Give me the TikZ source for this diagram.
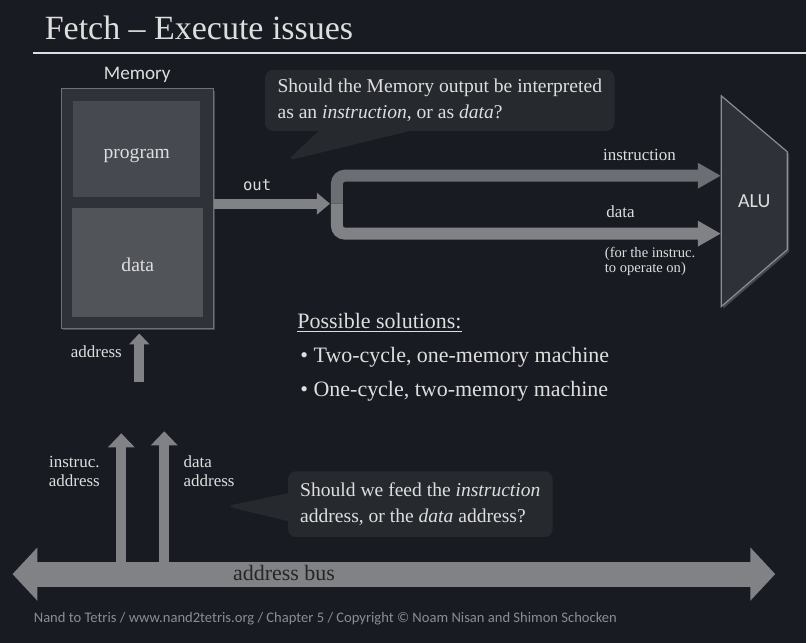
\documentclass[tikz,border=0pt]{standalone}
\usepackage{fontspec}
\setmainfont{Liberation Serif}
\setsansfont{Carlito}
\setmonofont{DejaVu Sans Mono}
\usetikzlibrary{arrows.meta,positioning,shapes.callouts,shadows}
\definecolor{bgcol}{RGB}{24,27,33}
\definecolor{lite}{RGB}{222,222,222}
\definecolor{edge}{RGB}{110,112,116}
\definecolor{memfill}{RGB}{47,50,56}
\definecolor{progfill}{RGB}{70,73,79}
\definecolor{datafill}{RGB}{81,84,89}
\definecolor{bubblefill}{RGB}{38,41,46}
\definecolor{pipegray}{RGB}{128,130,133}
\definecolor{pipedark}{RGB}{107,110,114}
\definecolor{alufill}{RGB}{46,49,55}
\definecolor{footgray}{RGB}{139,141,145}

\begin{document}
\begin{tikzpicture}[x=0.5pt, y=-0.5pt,
    lbl/.style={text=lite, inner sep=0pt, font=\fontsize{8.5}{9.5}\selectfont},
    sans/.style={text=lite, inner sep=0pt, font=\sffamily\fontsize{9.6}{11}\selectfont},
    membox/.style={draw=edge, line width=0.6pt, fill=memfill, minimum width=76pt, minimum height=120pt,
                   drop shadow={shadow xshift=1pt, shadow yshift=-1pt, fill=white, opacity=0.2}},
    cell/.style={text=lite, inner sep=0pt, text height=9.5pt, text depth=0pt, font=\fontsize{9.8}{12}\selectfont},
    bubble/.style={rectangle callout, fill=bubblefill, rounded corners=4pt, text=lite, align=left,
                   font=\fontsize{9.8}{13.2}\selectfont},
    sol/.style={text=lite, inner sep=0pt, font=\fontsize{11}{13}\selectfont},
    fat/.style={draw=pipegray, line width=5pt, -{Triangle[length=6.5pt, width=10.5pt]}},
    pipe/.style={line width=6pt, rounded corners=4pt, -{Triangle[length=11.5pt, width=12pt]}},
    upar/.style={draw=pipegray, line width=5pt, -{Triangle[length=7pt, width=13pt]}},
    busar/.style={draw=pipegray, line width=12.5pt,
                  {Triangle[length=12.5pt, width=26pt]}-{Triangle[length=12.5pt, width=26pt]}}
]
  \fill[bgcol] (0,0) rectangle (807,644);

  \node[anchor=base west, inner sep=0pt, text=lite, font=\fontsize{17}{20}\selectfont] (title) at (44,40) {Fetch -- Execute issues};
  \draw[lite, line width=0.8pt] (33,53) -- (807,53);

  \node[membox] (mem) at (137,209) {};
  \node[cell, fill=progfill, minimum width=63.5pt, minimum height=48pt] (prog) at (136.5,149) {program};
  \node[cell, fill=datafill, minimum width=65.5pt, minimum height=54.5pt] (data) at (137.5,262.5) {data};
  \node[sans, above=2.5pt of mem] (memlbl) {Memory};

  \draw[alufill, fill=alufill, draw=edge!80!white, line width=0.6pt,
        drop shadow={shadow xshift=1pt, shadow yshift=-1pt, fill=white, opacity=0.2}]
        (722,96) -- (788,152) -- (788,250) -- (722,307) -- cycle;
  \node[sans, font=\sffamily\fontsize{10}{12}\selectfont, minimum width=33pt, minimum height=105.5pt] (alu) at (755,201.5) {ALU};

  \coordinate (split) at (337,204);
  \coordinate (splitin) at (330,204);
  \coordinate (ininstr) at (alu.west |- 0,176);
  \coordinate (indata) at (alu.west |- 0,234);
  \draw[pipe, pipedark] (split) |- (ininstr);
  \draw[pipe, pipegray] (split) |- (indata);
  \draw[fat] (mem.east |- splitin) -- (splitin);
  \node[text=lite, inner sep=0pt, font=\ttfamily\fontsize{7.8}{9}\selectfont] (outlbl) at (257,185) {out};

  \node[lbl] (instrlbl) at (640,155) {instruction};
  \node[lbl] (datalbl) at (621,212) {data};
  \node[lbl, anchor=west, align=left, font=\fontsize{7.3}{6.6}\selectfont] (operlbl) at (605,262) {(for the instruc.\\to operate on)};

  \node[bubble, minimum width=175pt, minimum height=30.5pt, callout absolute pointer={(287,161)},
        callout pointer width=46pt] (ask1) at (440,100.5)
        {Should the Memory output be interpreted\\as an \textit{instruction}, or as \textit{data}?};

  \node[sol, anchor=base west] (solhead) at (297,329) {\underline{Possible solutions:}};
  \node[sol, anchor=base west] (sol1) at (300,363) {\textbullet\ Two-cycle, one-memory machine};
  \node[sol, anchor=base west] (sol2) at (300,397) {\textbullet\ One-cycle, two-memory machine};

  \coordinate (addrtail) at (139,383);
  \coordinate (addrtip) at (139,334);
  \draw[upar, line width=5pt, -{Triangle[length=5.5pt, width=10pt]}] (addrtail) -- (addrtip);
  \node[lbl] (addrlbl) at (96,352) {address};

  \coordinate (busL) at (12,575);
  \coordinate (busR) at (776,575);
  \draw[busar] (busL) -- (busR);
  \node[inner sep=0pt, text=black!85, font=\fontsize{11}{13}\selectfont] (bus) at (284,574) {address bus};

  \coordinate (ibase) at (121,563);
  \coordinate (itip) at (121,434);
  \coordinate (dbase) at (164,563);
  \coordinate (dtip) at (164,432);
  \draw[upar] (ibase) -- (itip);
  \draw[upar] (dbase) -- (dtip);
  \node[lbl, align=center] (ialbl) at (74,472) {instruc.\\address};
  \node[lbl, anchor=west, align=left] (dalbl) at (183,472) {data\\address};

  \node[bubble, minimum width=132.5pt, minimum height=33pt, callout absolute pointer={(226,507)},
        callout pointer width=14pt] (ask2) at (420.5,505)
        {Should we feed the \textit{instruction}\\address, or the \textit{data} address?};

  \node[anchor=west, inner sep=0pt, text=footgray, font=\sffamily\fontsize{7.3}{9}\selectfont] (foot) at (33,620)
        {Nand to Tetris / www.nand2tetris.org / Chapter 5 / Copyright © Noam Nisan and Shimon Schocken};
\end{tikzpicture}
\end{document}
